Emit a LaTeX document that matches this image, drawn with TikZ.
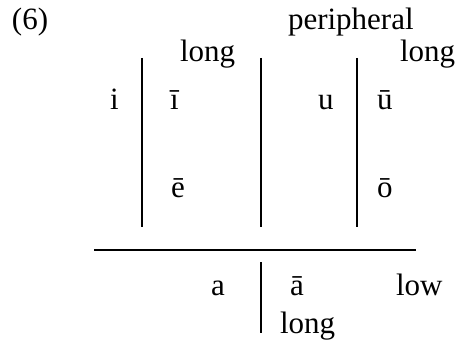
\documentclass[tikz,border=0pt]{standalone}
\usepackage{fontspec}
\setmainfont{Liberation Serif}
\newfontfamily\tnr{Liberation Serif}
\begin{document}
\begin{tikzpicture}[x=1pt,y=-1pt,
  lbl/.style={anchor=base west,inner sep=0pt,outer sep=0pt,font=\tnr\fontsize{31}{36}\selectfont},
  rule/.style={line width=2pt}]
\useasboundingbox (0,0) rectangle (456,345);
\node[lbl] (num) at (12,30) {(6)};
\node[lbl] (peri) at (288,30) {peripheral};
\node[lbl] (long1) at (180,62) {long};
\node[lbl] (long2) at (400,62) {long};
\node[lbl] (i) at (110,110) {i};
\node[lbl] (ii) at (170,110) {ī};
\node[lbl] (u) at (318,110) {u};
\node[lbl] (uu) at (377,110) {ū};
\node[lbl] (ee) at (171,197) {ē};
\node[lbl] (oo) at (377,197) {ō};
\node[lbl] (a) at (211,295) {a};
\node[lbl] (aa) at (290,295) {ā};
\node[lbl] (low) at (396,295) {low};
\node[lbl] (long3) at (280,333) {long};
\coordinate (v1t) at (142,58); \coordinate (v1b) at (142,227);
\coordinate (v2t) at (261,58); \coordinate (v2b) at (261,227);
\coordinate (v3t) at (357,58); \coordinate (v3b) at (357,227);
\coordinate (v4t) at (261,262); \coordinate (v4b) at (261,333);
\coordinate (hl) at (94,250); \coordinate (hr) at (416,250);
\draw[rule] (v1t) -- (v1b);
\draw[rule] (v2t) -- (v2b);
\draw[rule] (v3t) -- (v3b);
\draw[rule] (v4t) -- (v4b);
\draw[line width=1.5pt] (hl) -- (hr);
\end{tikzpicture}
\end{document}
